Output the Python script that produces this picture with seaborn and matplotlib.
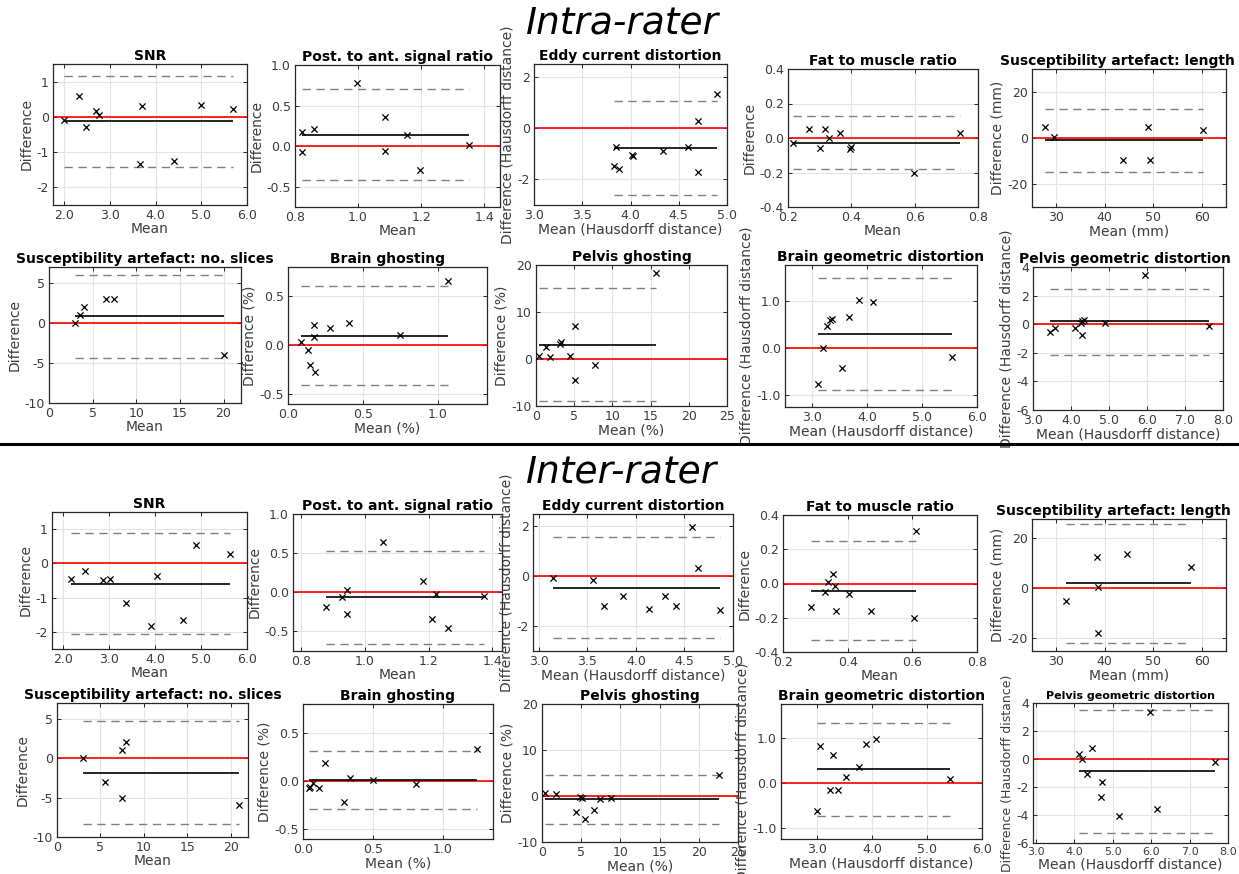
import matplotlib
matplotlib.use('Agg')
import matplotlib.pyplot as plt
from matplotlib.lines import Line2D
from matplotlib.ticker import FormatStrFormatter
import seaborn as sns

# panel titles and axis labels (same order for both raters)
titles = ['SNR', 'Post. to ant. signal ratio', 'Eddy current distortion',
          'Fat to muscle ratio', 'Susceptibility artefact: length',
          'Susceptibility artefact: no. slices', 'Brain ghosting',
          'Pelvis ghosting', 'Brain geometric distortion',
          'Pelvis geometric distortion']
xlabels = ['Mean', 'Mean', 'Mean (Hausdorff distance)', 'Mean', 'Mean (mm)',
           'Mean', 'Mean (%)', 'Mean (%)', 'Mean (Hausdorff distance)',
           'Mean (Hausdorff distance)']
ylabels = ['Difference', 'Difference', 'Difference (Hausdorff distance)',
           'Difference', 'Difference (mm)', 'Difference', 'Difference (%)',
           'Difference (%)', 'Difference (Hausdorff distance)',
           'Difference (Hausdorff distance)']

# ---- intra-rater data (mean, difference) ----
intra_snr_mean = [1.99, 2.32, 2.48, 2.70, 2.76, 3.69, 3.65, 4.41, 5.00, 5.69]
intra_snr_diff = [-0.10, 0.59, -0.29, 0.18, 0.05, 0.32, -1.34, -1.25, 0.35, 0.21]
intra_post_mean = [0.821, 0.821, 0.861, 0.997, 1.086, 1.086, 1.156, 1.196, 1.353]
intra_post_diff = [0.17, -0.07, 0.21, 0.78, 0.36, -0.06, 0.14, -0.30, 0.02]
intra_eddy_mean = [3.85, 3.83, 3.88, 4.02, 4.03, 4.34, 4.60, 4.70, 4.70, 4.90]
intra_eddy_diff = [-0.74, -1.46, -1.61, -1.06, -1.08, -0.88, -0.74, 0.27, -1.73, 1.34]
intra_fat_mean = [0.216, 0.265, 0.300, 0.316, 0.329, 0.365, 0.395, 0.400, 0.598, 0.744]
intra_fat_diff = [-0.029, 0.050, -0.060, 0.050, 0.000, 0.031, -0.064, -0.054, -0.202, 0.031]
intra_len_mean = [27.6, 29.5, 43.7, 48.9, 49.4, 60.3]
intra_len_diff = [4.9, 0.4, -9.6, 4.9, -9.6, 3.5]
intra_sli_mean = [3.0, 3.5, 4.0, 6.5, 7.5, 20.0]
intra_sli_diff = [0.0, 1.0, 2.0, 3.0, 3.0, -4.0]
intra_bgh_mean = [0.086, 0.131, 0.146, 0.176, 0.171, 0.180, 0.284, 0.408, 0.750, 1.072]
intra_bgh_diff = [0.030, -0.050, -0.202, 0.212, 0.088, -0.269, 0.178, 0.232, 0.101, 0.660]
intra_pgh_mean = [0.35, 1.31, 1.88, 3.10, 3.27, 4.49, 5.10, 5.15, 7.68, 15.75]
intra_pgh_diff = [0.71, 2.55, 0.35, 3.19, 3.62, 0.71, 6.95, -4.40, -1.21, 18.30]
intra_bgd_mean = [3.11, 3.19, 3.26, 3.32, 3.35, 3.54, 3.66, 3.84, 4.10, 5.55]
intra_bgd_diff = [-0.77, 0.00, 0.46, 0.58, 0.61, -0.42, 0.65, 1.02, 0.97, -0.19]
intra_pgd_mean = [3.44, 3.58, 4.10, 4.25, 4.28, 4.30, 4.34, 4.89, 5.95, 7.62]
intra_pgd_diff = [-0.58, -0.30, -0.26, 0.05, -0.79, 0.21, 0.28, 0.05, 3.44, -0.12]

intra_bias = [-0.12, 0.14, -0.77, -0.027, -0.87, 0.83, 0.10, 3.05, 0.295, 0.21]
intra_upper = [1.16, 0.71, 1.05, 0.126, 12.8, 6.0, 0.606, 15.1, 1.47, 2.49]
intra_lower = [-1.43, -0.42, -2.60, -0.177, -14.6, -4.4, -0.404, -9.0, -0.90, -2.14]

# ---- inter-rater data (mean, difference) ----
inter_snr_mean = [2.16, 2.46, 2.86, 3.02, 3.36, 3.91, 4.04, 4.60, 4.89, 5.64]
inter_snr_diff = [-0.46, -0.21, -0.49, -0.46, -1.15, -1.83, -0.37, -1.65, 0.53, 0.26]
inter_post_mean = [0.877, 0.928, 0.944, 0.944, 1.057, 1.182, 1.223, 1.212, 1.262, 1.374]
inter_post_diff = [-0.19, -0.064, 0.030, -0.277, 0.638, 0.140, -0.026, -0.340, -0.460, -0.051]
inter_eddy_mean = [3.15, 3.56, 3.67, 3.87, 4.13, 4.30, 4.41, 4.58, 4.64, 4.87]
inter_eddy_diff = [-0.08, -0.15, -1.18, -0.78, -1.33, -0.79, -1.18, 1.96, 0.35, -1.36]
inter_fat_mean = [0.288, 0.331, 0.339, 0.355, 0.360, 0.365, 0.403, 0.471, 0.605, 0.610]
inter_fat_diff = [-0.140, -0.052, 0.010, 0.058, -0.014, -0.161, -0.064, -0.161, -0.200, 0.305]
inter_len_mean = [32.0, 38.4, 38.7, 38.7, 44.6, 57.8]
inter_len_diff = [-5.1, 12.4, 0.3, -18.0, 13.6, 8.4]
inter_sli_mean = [3.0, 5.5, 7.5, 7.5, 8.0, 21.0]
inter_sli_diff = [0.0, -3.0, 1.0, -5.0, 2.0, -6.0]
inter_bgh_mean = [0.041, 0.053, 0.069, 0.112, 0.160, 0.291, 0.334, 0.499, 0.811, 1.246]
inter_bgh_diff = [-0.066, -0.059, -0.017, -0.066, 0.193, -0.214, 0.034, 0.017, -0.034, 0.331]
inter_pgh_mean = [0.43, 1.83, 4.30, 4.89, 5.15, 5.53, 6.60, 7.36, 8.85, 22.55]
inter_pgh_diff = [0.73, 0.51, -3.49, -0.22, -0.44, -4.95, -2.98, -0.58, -0.44, 4.65]
inter_bgd_mean = [3.00, 3.06, 3.24, 3.30, 3.39, 3.53, 3.77, 3.89, 4.08, 5.41]
inter_bgd_diff = [-0.63, 0.81, -0.15, 0.61, -0.15, 0.13, 0.36, 0.87, 0.98, 0.09]
inter_pgd_mean = [4.13, 4.20, 4.46, 4.33, 4.72, 4.70, 5.15, 5.98, 6.16, 7.65]
inter_pgd_diff = [0.38, 0.00, 0.79, -1.05, -1.62, -2.69, -4.10, 3.33, -3.55, -0.19]

inter_bias = [-0.59, -0.064, -0.47, -0.041, 2.0, -1.86, 0.01, -0.73, 0.30, -0.86]
inter_upper = [0.90, 0.53, 1.57, 0.25, 25.7, 4.7, 0.31, 4.5, 1.33, 3.52]
inter_lower = [-2.07, -0.66, -2.48, -0.33, -21.7, -8.4, -0.29, -6.0, -0.74, -5.29]

intra_means = [intra_snr_mean, intra_post_mean, intra_eddy_mean, intra_fat_mean,
               intra_len_mean, intra_sli_mean, intra_bgh_mean, intra_pgh_mean,
               intra_bgd_mean, intra_pgd_mean]
intra_diffs = [intra_snr_diff, intra_post_diff, intra_eddy_diff, intra_fat_diff,
               intra_len_diff, intra_sli_diff, intra_bgh_diff, intra_pgh_diff,
               intra_bgd_diff, intra_pgd_diff]
inter_means = [inter_snr_mean, inter_post_mean, inter_eddy_mean, inter_fat_mean,
               inter_len_mean, inter_sli_mean, inter_bgh_mean, inter_pgh_mean,
               inter_bgd_mean, inter_pgd_mean]
inter_diffs = [inter_snr_diff, inter_post_diff, inter_eddy_diff, inter_fat_diff,
               inter_len_diff, inter_sli_diff, inter_bgh_diff, inter_pgh_diff,
               inter_bgd_diff, inter_pgd_diff]

# axes boxes in pixels: left, top, right, bottom
intra_boxes = [(53, 64, 247, 205), (295, 65, 500, 207), (534, 64, 727, 205),
               (788, 69, 978, 207), (1032, 69, 1226, 207),
               (49, 267, 241, 403), (288, 267, 487, 404), (536, 265, 727, 406),
               (785, 265, 977, 407), (1033, 267, 1223, 410)]
inter_boxes = [(52, 512, 247, 649), (293, 514, 502, 651), (533, 514, 733, 651),
               (783, 515, 977, 652), (1032, 519, 1226, 651),
               (57, 703, 248, 837), (303, 704, 493, 839), (542, 704, 738, 842),
               (781, 704, 982, 839), (1033, 703, 1228, 843)]
# title centre offsets in pixels (long titles sit left of the axes centre)
intra_title_dx = [0, 0, 0, 0, -12, 0, 0, 0, 0, -3]
inter_title_dx = [0, 0, 0, 0, -16, 0, 0, 0, 0, 0]

# xlim, ylim, xticks, yticks, x format, y format
intra_axes = [
    ((1.75, 6.0), (-2.5, 1.5), [2, 3, 4, 5, 6], [-2, -1, 0, 1], '%.1f', '%d'),
    ((0.8, 1.45), (-0.75, 1.0), [0.8, 1.0, 1.2, 1.4], [-0.5, 0, 0.5, 1.0], '%.1f', '%.1f'),
    ((3.0, 5.0), (-3, 2.5), [3.0, 3.5, 4.0, 4.5, 5.0], [-2, 0, 2], '%.1f', '%d'),
    ((0.2, 0.8), (-0.4, 0.4), [0.2, 0.4, 0.6, 0.8], [-0.4, -0.2, 0, 0.2, 0.4], '%.1f', '%.1f'),
    ((25, 65), (-30, 30), [30, 40, 50, 60], [-20, 0, 20], '%d', '%d'),
    ((0, 22), (-10, 7), [0, 5, 10, 15, 20], [-10, -5, 0, 5], '%d', '%d'),
    ((0, 1.33), (-0.6, 0.8), [0, 0.5, 1.0], [-0.5, 0, 0.5], '%.1f', '%.1f'),
    ((0, 25), (-10, 20), [0, 5, 10, 15, 20, 25], [-10, 0, 10, 20], '%d', '%d'),
    ((2.5, 6.0), (-1.25, 1.75), [3, 4, 5, 6], [-1, 0, 1], '%.1f', '%.1f'),
    ((3, 8), (-6, 4), [3, 4, 5, 6, 7, 8], [-6, -4, -2, 0, 2, 4], '%.1f', '%d'),
]
inter_axes = [
    ((1.75, 6.0), (-2.5, 1.5), [2, 3, 4, 5, 6], [-2, -1, 0, 1], '%.1f', '%d'),
    ((0.775, 1.43), (-0.75, 1.0), [0.8, 1.0, 1.2, 1.4], [-0.5, 0, 0.5, 1.0], '%.1f', '%.1f'),
    ((2.94, 5.0), (-3, 2.5), [3.0, 3.5, 4.0, 4.5, 5.0], [-2, 0, 2], '%.1f', '%d'),
    ((0.2, 0.8), (-0.4, 0.4), [0.2, 0.4, 0.6, 0.8], [-0.4, -0.2, 0, 0.2, 0.4], '%.1f', '%.1f'),
    ((25, 65), (-25, 27.5), [30, 40, 50, 60], [-20, 0, 20], '%d', '%d'),
    ((0, 22), (-10, 7), [0, 5, 10, 15, 20], [-10, -5, 0, 5], '%d', '%d'),
    ((0, 1.36), (-0.6, 0.8), [0, 0.5, 1.0], [-0.5, 0, 0.5], '%.1f', '%.1f'),
    ((0, 25), (-10, 20), [0, 5, 10, 15, 20, 25], [-10, 0, 10, 20], '%d', '%d'),
    ((2.35, 6.0), (-1.25, 1.75), [3, 4, 5, 6], [-1, 0, 1], '%.1f', '%.1f'),
    ((2.92, 8), (-6, 4), [3, 4, 5, 6, 7, 8], [-6, -4, -2, 0, 2, 4], '%.1f', '%d'),
]

sns.set_style('ticks')
plt.rcParams['font.family'] = ['DejaVu Sans']
plt.rcParams['axes.unicode_minus'] = False

W, H = 1239, 874
fig = plt.figure(figsize=(W / 100, H / 100), dpi=100)
txt_col = '#3c3c3c'


def draw_panel(box, lims, x, y, bias, up, lo, title, xl, yl, tdx=0,
               tsize=10, xticksize=9, ylsize=10):
    l, t, r, b = box
    ax = fig.add_axes([l / W, 1 - b / H, (r - l) / W, (b - t) / H])
    xlim, ylim, xt, yt, xf, yf = lims
    ax.grid(True, color='#e4e4e4', lw=0.8, zorder=0)
    ax.axhline(0, color='red', lw=1.2, zorder=2)
    x0, x1 = min(x), max(x)
    ax.hlines([up, lo], x0, x1, colors='#808080', lw=1.0,
              linestyles=(0, (6, 4)), zorder=2)
    ax.hlines(bias, x0, x1, colors='black', lw=1.2, zorder=3)
    sns.scatterplot(x=x, y=y, ax=ax, marker='x', color='black', s=20,
                    linewidth=0.9, zorder=4)
    ax.set_xlim(xlim)
    ax.set_ylim(ylim)
    ax.set_xticks(xt)
    ax.set_yticks(yt)
    ax.xaxis.set_major_formatter(FormatStrFormatter(xf))
    ax.yaxis.set_major_formatter(FormatStrFormatter(yf))
    ax.tick_params(direction='in', top=True, right=True, length=3, width=0.7,
                   labelsize=9, labelcolor=txt_col, color='#262626', pad=3)
    ax.tick_params(axis='x', labelsize=xticksize)
    for sp in ax.spines.values():
        sp.set_color('#262626')
        sp.set_linewidth(0.9)
    ax.set_title(title, fontsize=tsize, fontweight='bold', pad=3,
                 color='black', x=0.5 + tdx / (r - l))
    ax.set_xlabel(xl, fontsize=10, color=txt_col, labelpad=0)
    ax.set_ylabel(yl, fontsize=ylsize, color=txt_col, labelpad=2)
    return ax


for i in range(10):
    draw_panel(intra_boxes[i], intra_axes[i], intra_means[i], intra_diffs[i],
               intra_bias[i], intra_upper[i], intra_lower[i],
               titles[i], xlabels[i], ylabels[i], tdx=intra_title_dx[i])
    last = (i == 9)
    draw_panel(inter_boxes[i], inter_axes[i], inter_means[i], inter_diffs[i],
               inter_bias[i], inter_upper[i], inter_lower[i],
               titles[i], xlabels[i], ylabels[i], tdx=inter_title_dx[i],
               tsize=8 if last else 10, xticksize=8 if last else 9,
               ylsize=9 if last else 10)

fig.text(622 / W, 1 - 23 / H, 'Intra-rater', ha='center', va='center',
         fontsize=27, style='italic', family='DejaVu Sans', color='black')
fig.text(622 / W, 1 - 472 / H, 'Inter-rater', ha='center', va='center',
         fontsize=27, style='italic', family='DejaVu Sans', color='black')
fig.add_artist(Line2D([0, 1], [1 - 444 / H, 1 - 444 / H], color='black',
                      lw=2.2, transform=fig.transFigure))

fig.savefig('out.png', dpi=100)
